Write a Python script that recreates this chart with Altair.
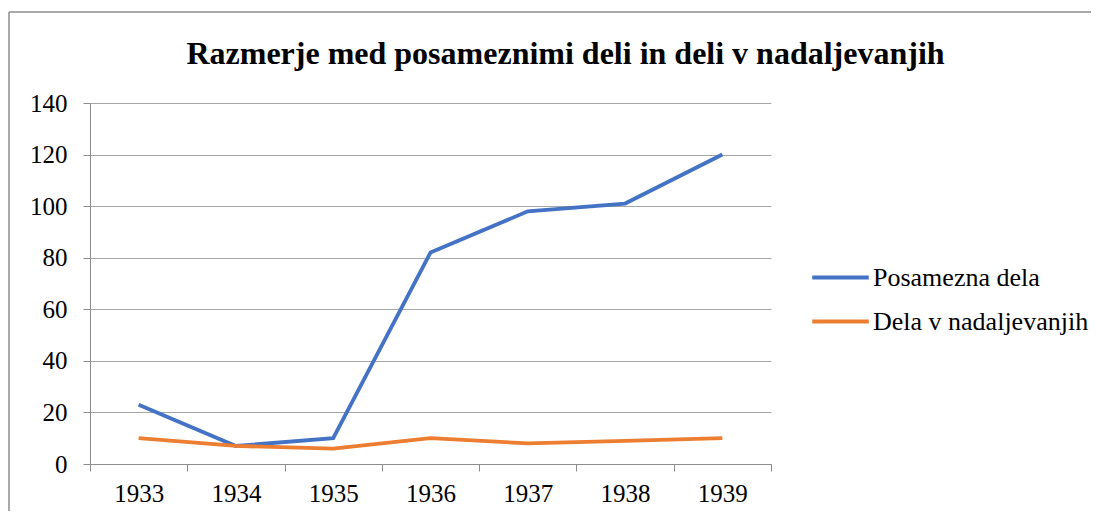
import altair as alt
import pandas as pd

years = ["1933", "1934", "1935", "1936", "1937", "1938", "1939"]
posamezna = [23, 7, 10, 82, 98, 101, 120]
nadaljevanja = [10, 7, 6, 10, 8, 9, 10]
series_names = ["Posamezna dela", "Dela v nadaljevanjih"]
colors = ["#4472C4", "#ED7D31"]

rows = []
for y, v in zip(years, posamezna):
    rows.append({"leto": y, "serija": series_names[0], "vrednost": v})
for y, v in zip(years, nadaljevanja):
    rows.append({"leto": y, "serija": series_names[1], "vrednost": v})
df = pd.DataFrame(rows)

FONT = "Liberation Serif"

lines = alt.Chart(df).mark_line(strokeWidth=3.8).encode(
    x=alt.X("leto:O", sort=years,
            scale=alt.Scale(type="band", paddingInner=0, paddingOuter=0),
            axis=alt.Axis(title=None, labelAngle=0, tickBand="extent", tickSize=7,
                          labelFontSize=25, labelFont=FONT, labelColor="#000000",
                          labelPadding=10, domainColor="#8c8c8c", tickColor="#8c8c8c",
                          grid=False)),
    y=alt.Y("vrednost:Q", scale=alt.Scale(domain=[0, 140]),
            axis=alt.Axis(title=None, values=list(range(0, 141, 20)), tickSize=7,
                          labelFontSize=25, labelFont=FONT, labelColor="#000000",
                          labelPadding=16, domainColor="#8c8c8c", tickColor="#8c8c8c",
                          gridColor="#a6a6a6", gridWidth=1)),
    color=alt.Color("serija:N", sort=series_names,
                    scale=alt.Scale(domain=series_names, range=colors),
                    legend=alt.Legend(title=None, orient="none", legendX=720, legendY=144,
                                      symbolType="stroke", symbolSize=3200,
                                      symbolStrokeWidth=3.8, labelFont=FONT,
                                      labelFontSize=26, labelColor="#000000",
                                      labelLimit=400, rowPadding=-10, labelOffset=2)),
)

border = alt.Chart(pd.DataFrame({"b": [0]})).mark_rule(color="#8c8c8c", strokeWidth=1.5).encode(
    x=alt.value(-81), x2=alt.value(1100), y=alt.value(-91), y2=alt.value(-91))
border_left = alt.Chart(pd.DataFrame({"b": [0]})).mark_rule(color="#8c8c8c", strokeWidth=1.5).encode(
    x=alt.value(-81), x2=alt.value(-81), y=alt.value(-91), y2=alt.value(500))

chart = alt.layer(border, border_left, lines).properties(
    width=681, height=361,
    title=alt.TitleParams("Razmerje med posameznimi deli in deli v nadaljevanjih",
                          font=FONT, fontSize=32, fontWeight="bold", color="#000000",
                          anchor="middle", dx=135, dy=84, offset=24),
    autosize=alt.AutoSizeParams(type="none"),
    padding={"left": 82, "top": 95, "right": 320, "bottom": 47},
).configure_view(stroke=None)

chart.save("out.html", embed_options={"renderer": "svg", "actions": False})
